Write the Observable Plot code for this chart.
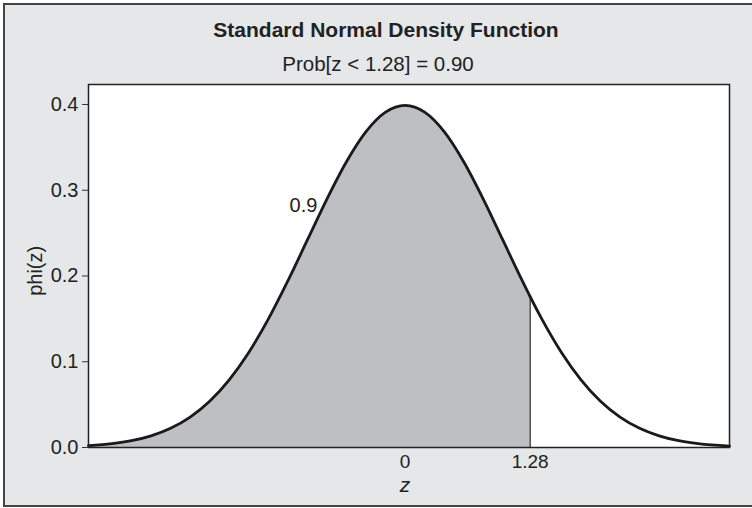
<!DOCTYPE html>
<html>
<head>
<meta charset="utf-8">
<script src="https://cdn.jsdelivr.net/npm/d3@7"></script>
<script src="https://cdn.jsdelivr.net/npm/@observablehq/plot@0.6"></script>
<style>
  html, body { margin: 0; padding: 0; background: #ffffff; }
  #page { position: relative; width: 752px; height: 508px; overflow: hidden; font-family: "Liberation Sans", Arial, Helvetica, sans-serif; }
  #bg { position: absolute; left: 3px; top: 3px; width: 760px; height: 500px; background: #e6e7e9; border: 2px solid #444; border-right: none; }
  #content { position: relative; }
  #title { height: 46px; box-sizing: border-box; padding-top: 20px; padding-left: 20px; line-height: 20px; text-align: center; font-weight: bold; font-size: 21px; color: #222; }
  #subtitle { height: 30px; box-sizing: border-box; padding-top: 8px; padding-left: 4px; line-height: 20px; text-align: center; font-size: 20.5px; color: #222; }
  #chart svg { display: block; }
</style>
</head>
<body>
<div id="page">
  <div id="bg"></div>
  <div id="content">
    <div id="title">Standard Normal Density Function</div>
    <div id="subtitle">Prob[z &lt; 1.28] = 0.90</div>
    <div id="chart"></div>
  </div>
</div>
<script>
// Values
const zValues   = [-3.24, -3.0, -2.8, -2.6, -2.4, -2.2, -2.0, -1.8, -1.6, -1.4, -1.2, -1.0, -0.8, -0.6, -0.4, -0.2, 0.0, 0.2, 0.4, 0.6, 0.8, 1.0, 1.2, 1.28, 1.4, 1.6, 1.8, 2.0, 2.2, 2.4, 2.6, 2.8, 3.0, 3.32];
const phiValues = [0.0021, 0.0044, 0.0079, 0.0136, 0.0224, 0.0355, 0.0540, 0.0790, 0.1109, 0.1497, 0.1942, 0.2420, 0.2897, 0.3332, 0.3683, 0.3910, 0.3989, 0.3910, 0.3683, 0.3332, 0.2897, 0.2420, 0.1942, 0.1758, 0.1497, 0.1109, 0.0790, 0.0540, 0.0355, 0.0224, 0.0136, 0.0079, 0.0044, 0.0016];
const cutoff = 1.28;
const cutoffPhi = 0.1758;
const xTicks = [0, 1.28];
const xTickLabels = ["0", "1.28"];
const yTicks = [0, 0.1, 0.2, 0.3, 0.4];
const areaLabel = "0.9";
const areaLabelPos = [-1.04, 0.282];
const yLabel = "phi(z)";
const xLabel = "z";

const curve = zValues.map((z, i) => ({z, phi: phiValues[i]}));
const shaded = curve.filter(d => d.z <= cutoff);

const fontFamily = '"Liberation Sans", Arial, Helvetica, sans-serif';

const plot = Plot.plot({
  width: 752,
  height: 428,
  marginLeft: 88,
  marginRight: 23,
  marginTop: 8,
  marginBottom: 57,
  style: {background: "transparent", fontFamily, fontSize: "19px", color: "#222"},
  x: {domain: [-3.24, 3.32], label: null},
  y: {domain: [0, 0.4233], label: null},
  marks: [
    Plot.frame({fill: "white", stroke: null}),
    Plot.areaY(shaded, {x: "z", y: "phi", fill: "#bebfc3", curve: "monotone-x"}),
    Plot.ruleX([cutoff], {y1: 0, y2: cutoffPhi, stroke: "#222", strokeWidth: 1.2}),
    Plot.line(curve, {x: "z", y: "phi", stroke: "#1a1a1a", strokeWidth: 2.8, curve: "monotone-x"}),
    Plot.axisY({ticks: yTicks, tickFormat: d3.format(".1f"), tickSize: 6, tickPadding: 4, label: null, fontSize: 20, stroke: "#333"}),
    Plot.axisX({ticks: xTicks, tickFormat: (d, i) => xTickLabels[i], tickSize: 0, tickPadding: 7, label: null, fontSize: 19}),
    Plot.text([areaLabel], {x: [areaLabelPos[0]], y: [areaLabelPos[1]], text: d => d, fontSize: 20, fill: "#222"}),
    Plot.text([xLabel], {x: [0], frameAnchor: "bottom", dy: 44, text: d => d, fontSize: 21, fontStyle: "italic", fill: "#222"}),
    Plot.text([yLabel], {x: [-3.24], y: [0.206], dx: -53, rotate: -90, text: d => d, fontSize: 20, fill: "#222"}),
    Plot.frame({stroke: "#222", strokeWidth: 1.5})
  ]
});
document.getElementById("chart").appendChild(plot);
</script>
</body>
</html>
